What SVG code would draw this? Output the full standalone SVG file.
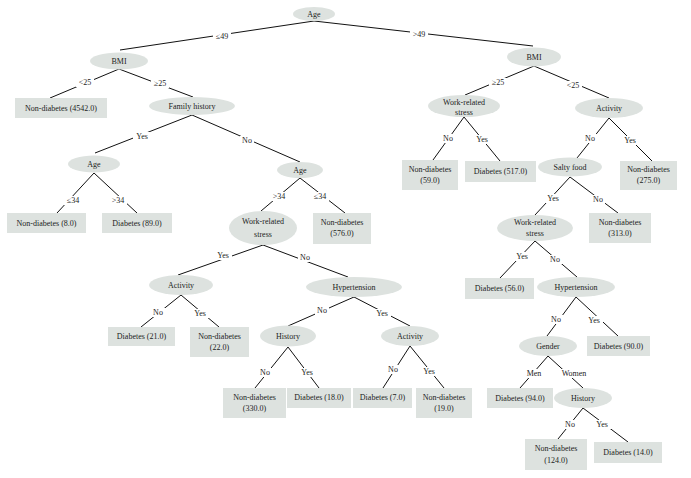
<svg xmlns="http://www.w3.org/2000/svg" width="691" height="478" viewBox="0 0 691 478">
<style>
.n ellipse,.n rect{fill:#dde2df;stroke:none}
.n text{font-family:"Liberation Serif",serif;font-size:8px;fill:#222;text-anchor:middle}
#edges line{stroke:#111;stroke-width:1}
#edges text{font-family:"Liberation Serif",serif;font-size:8px;fill:#222;text-anchor:middle}
</style>
<defs>
<rect id="w2" x="-7" y="-7" width="14" height="9" fill="#fff"/>
<rect id="w3" x="-9" y="-7" width="18" height="9" fill="#fff"/>
<rect id="w5" x="-14" y="-7" width="28" height="9" fill="#fff"/>
</defs>
<rect width="691" height="478" fill="#fff"/>
<g id="edges">
<line x1="314" y1="21" x2="120" y2="50"/><use href="#w3" x="222" y="39"/><text x="222" y="39">≤49</text>
<line x1="314" y1="21" x2="533" y2="46"/><use href="#w3" x="419" y="37"/><text x="419" y="37">&gt;49</text>
<line x1="119" y1="69" x2="50" y2="98"/><use href="#w3" x="85" y="85"/><text x="85" y="85">&lt;25</text>
<line x1="119" y1="69" x2="193" y2="97"/><use href="#w3" x="160" y="86"/><text x="160" y="86">≥25</text>
<line x1="192" y1="115" x2="95" y2="153"/><use href="#w3" x="142" y="139"/><text x="142" y="139">Yes</text>
<line x1="192" y1="115" x2="300" y2="162"/><use href="#w2" x="247" y="143"/><text x="247" y="143">No</text>
<line x1="94" y1="173" x2="57" y2="213"/><use href="#w3" x="73" y="203"/><text x="73" y="203">≤34</text>
<line x1="94" y1="173" x2="137" y2="213"/><use href="#w3" x="118" y="203"/><text x="118" y="203">&gt;34</text>
<line x1="300" y1="178" x2="261" y2="211"/><use href="#w3" x="279" y="199"/><text x="279" y="199">&gt;34</text>
<line x1="300" y1="178" x2="345" y2="213"/><use href="#w3" x="320" y="199"/><text x="320" y="199">≤34</text>
<line x1="263" y1="245" x2="178" y2="275"/><use href="#w3" x="223" y="258"/><text x="223" y="258">Yes</text>
<line x1="263" y1="245" x2="348" y2="277"/><use href="#w2" x="305" y="260"/><text x="305" y="260">No</text>
<line x1="181" y1="295" x2="141" y2="327"/><use href="#w2" x="158" y="315"/><text x="158" y="315">No</text>
<line x1="181" y1="295" x2="219" y2="327"/><use href="#w3" x="200" y="316"/><text x="200" y="316">Yes</text>
<line x1="354" y1="297" x2="288" y2="326"/><use href="#w2" x="322" y="313"/><text x="322" y="313">No</text>
<line x1="354" y1="297" x2="410" y2="326"/><use href="#w3" x="382" y="316"/><text x="382" y="316">Yes</text>
<line x1="288" y1="347" x2="255" y2="388"/><use href="#w2" x="265" y="375"/><text x="265" y="375">No</text>
<line x1="288" y1="347" x2="319" y2="388"/><use href="#w3" x="307" y="375"/><text x="307" y="375">Yes</text>
<line x1="410" y1="346" x2="383" y2="388"/><use href="#w2" x="393" y="372"/><text x="393" y="372">No</text>
<line x1="410" y1="346" x2="444" y2="388"/><use href="#w3" x="429" y="374"/><text x="429" y="374">Yes</text>
<line x1="534" y1="66" x2="465" y2="95"/><use href="#w3" x="498" y="85"/><text x="498" y="85">≥25</text>
<line x1="534" y1="66" x2="609" y2="98"/><use href="#w3" x="573" y="88"/><text x="573" y="88">&lt;25</text>
<line x1="464" y1="117" x2="433" y2="160"/><use href="#w2" x="448" y="141"/><text x="448" y="141">No</text>
<line x1="464" y1="117" x2="500" y2="161"/><use href="#w3" x="482" y="142"/><text x="482" y="142">Yes</text>
<line x1="609" y1="118" x2="577" y2="158"/><use href="#w2" x="590" y="141"/><text x="590" y="141">No</text>
<line x1="609" y1="118" x2="652" y2="161"/><use href="#w3" x="630" y="143"/><text x="630" y="143">Yes</text>
<line x1="570" y1="177" x2="535" y2="215"/><use href="#w3" x="553" y="201"/><text x="553" y="201">Yes</text>
<line x1="570" y1="177" x2="618" y2="213"/><use href="#w2" x="598" y="202"/><text x="598" y="202">No</text>
<line x1="535" y1="241" x2="500" y2="278"/><use href="#w3" x="522" y="259"/><text x="522" y="259">Yes</text>
<line x1="535" y1="241" x2="577" y2="277"/><use href="#w2" x="555" y="262"/><text x="555" y="262">No</text>
<line x1="576" y1="297" x2="547" y2="336"/><use href="#w2" x="556" y="322"/><text x="556" y="322">No</text>
<line x1="576" y1="297" x2="618" y2="336"/><use href="#w3" x="594" y="323"/><text x="594" y="323">Yes</text>
<line x1="548" y1="356" x2="520" y2="388"/><use href="#w3" x="534" y="376"/><text x="534" y="376">Men</text>
<line x1="548" y1="356" x2="583" y2="388"/><use href="#w5" x="574" y="376"/><text x="574" y="376">Women</text>
<line x1="583" y1="408" x2="558" y2="439"/><use href="#w2" x="570" y="427"/><text x="570" y="427">No</text>
<line x1="583" y1="408" x2="628" y2="442"/><use href="#w3" x="602" y="427"/><text x="602" y="427">Yes</text>
</g>
<g id="n_age0" class="n"><ellipse cx="314" cy="14" rx="21" ry="7"/><text x="314" y="17">Age</text></g>
<g id="n_bmiL" class="n"><ellipse cx="119" cy="61" rx="29" ry="8.5"/><text x="119" y="64">BMI</text></g>
<g id="n_bmiR" class="n"><ellipse cx="534" cy="57" rx="27" ry="9.5"/><text x="534" y="60">BMI</text></g>
<g id="n_fh" class="n"><ellipse cx="192" cy="106" rx="43" ry="9"/><text x="192" y="109">Family history</text></g>
<g id="n_ageY" class="n"><ellipse cx="94" cy="164" rx="26" ry="8.5"/><text x="94" y="167">Age</text></g>
<g id="n_ageN" class="n"><ellipse cx="300" cy="170" rx="23" ry="8"/><text x="300" y="173">Age</text></g>
<g id="n_wrs1" class="n"><ellipse cx="263" cy="228" rx="34" ry="17"/><text x="263" y="224">Work-related</text><text x="263" y="237">stress</text></g>
<g id="n_act1" class="n"><ellipse cx="181" cy="285" rx="32" ry="10"/><text x="181" y="288">Activity</text></g>
<g id="n_hyp1" class="n"><ellipse cx="354" cy="287" rx="48" ry="10"/><text x="354" y="290">Hypertension</text></g>
<g id="n_hist1" class="n"><ellipse cx="288" cy="336" rx="28" ry="10.5"/><text x="288" y="339">History</text></g>
<g id="n_act2" class="n"><ellipse cx="410" cy="336" rx="29" ry="10"/><text x="410" y="339">Activity</text></g>
<g id="n_wrs2" class="n"><ellipse cx="464" cy="106" rx="36" ry="11"/><text x="464" y="105">Work-related</text><text x="464" y="115">stress</text></g>
<g id="n_act3" class="n"><ellipse cx="609" cy="108" rx="34" ry="10"/><text x="609" y="111">Activity</text></g>
<g id="n_salty" class="n"><ellipse cx="570" cy="167" rx="32" ry="9.5"/><text x="570" y="170">Salty food</text></g>
<g id="n_wrs3" class="n"><ellipse cx="535" cy="228" rx="38" ry="13"/><text x="535" y="225">Work-related</text><text x="535" y="236">stress</text></g>
<g id="n_hyp2" class="n"><ellipse cx="576" cy="287" rx="39" ry="10"/><text x="576" y="290">Hypertension</text></g>
<g id="n_gender" class="n"><ellipse cx="548" cy="346" rx="29" ry="10"/><text x="548" y="349">Gender</text></g>
<g id="n_hist2" class="n"><ellipse cx="583" cy="398" rx="29" ry="10"/><text x="583" y="401">History</text></g>
<g id="r4542" class="n"><rect x="15" y="98" width="92" height="20"/><text x="61" y="111">Non-diabetes (4542.0)</text></g>
<g id="r8" class="n"><rect x="7" y="213" width="79" height="20"/><text x="46.5" y="226">Non-diabetes (8.0)</text></g>
<g id="r89" class="n"><rect x="102" y="213" width="70" height="20"/><text x="137" y="226">Diabetes (89.0)</text></g>
<g id="r576" class="n"><rect x="313" y="213" width="58" height="31"/><text x="342" y="225">Non-diabetes</text><text x="342" y="236">(576.0)</text></g>
<g id="r21" class="n"><rect x="108" y="327" width="67" height="19"/><text x="141.5" y="339">Diabetes (21.0)</text></g>
<g id="r22" class="n"><rect x="190" y="327" width="59" height="30"/><text x="219.5" y="339">Non-diabetes</text><text x="219.5" y="350">(22.0)</text></g>
<g id="r330" class="n"><rect x="223" y="388" width="63" height="30"/><text x="254.5" y="400">Non-diabetes</text><text x="254.5" y="411">(330.0)</text></g>
<g id="r18" class="n"><rect x="287" y="388" width="64" height="20"/><text x="319" y="400">Diabetes (18.0)</text></g>
<g id="r7" class="n"><rect x="353" y="388" width="59" height="20"/><text x="382.5" y="400">Diabetes (7.0)</text></g>
<g id="r19" class="n"><rect x="416" y="388" width="56" height="30"/><text x="444" y="400">Non-diabetes</text><text x="444" y="411">(19.0)</text></g>
<g id="r59" class="n"><rect x="402" y="160" width="56" height="30"/><text x="430" y="172">Non-diabetes</text><text x="430" y="183">(59.0)</text></g>
<g id="r517" class="n"><rect x="465" y="161" width="71" height="21"/><text x="500.5" y="174">Diabetes (517.0)</text></g>
<g id="r275" class="n"><rect x="620" y="161" width="57" height="29"/><text x="648.5" y="172">Non-diabetes</text><text x="648.5" y="183">(275.0)</text></g>
<g id="r313" class="n"><rect x="589" y="213" width="62" height="30"/><text x="620" y="225">Non-diabetes</text><text x="620" y="236">(313.0)</text></g>
<g id="r56" class="n"><rect x="465" y="278" width="69" height="21"/><text x="499.5" y="291">Diabetes (56.0)</text></g>
<g id="r90" class="n"><rect x="587" y="336" width="63" height="20"/><text x="618.5" y="349">Diabetes (90.0)</text></g>
<g id="r94" class="n"><rect x="487" y="388" width="66" height="20"/><text x="520" y="401">Diabetes (94.0)</text></g>
<g id="r124" class="n"><rect x="525" y="439" width="62" height="31"/><text x="556" y="451">Non-diabetes</text><text x="556" y="463">(124.0)</text></g>
<g id="r14" class="n"><rect x="594" y="442" width="68" height="21"/><text x="628" y="455">Diabetes (14.0)</text></g>
</svg>
